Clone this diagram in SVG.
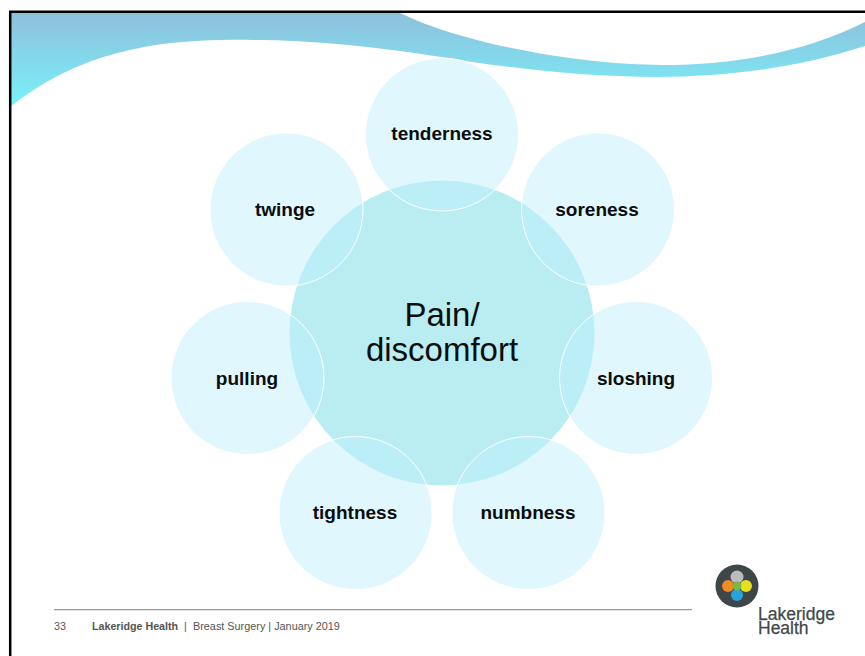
<svg xmlns="http://www.w3.org/2000/svg" width="865" height="656" viewBox="0 0 865 656">
<style>
text{font-family:"Liberation Sans",Arial,sans-serif}
.o{fill:#bff0fb;fill-opacity:.5;stroke:#fff;stroke-width:1}
.l{font-size:19px;font-weight:bold;fill:#0c0c0c;text-anchor:middle}
.f{font-size:10.700px;fill:#555}
.h{font-size:17.500px;fill:#41484b;stroke:#41484b;stroke-width:.25}
</style>
<defs><linearGradient id="w" x1="0" y1="12" x2="0" y2="107" gradientUnits="userSpaceOnUse"><stop offset="0" stop-color="#8fbfdb"/><stop offset="1" stop-color="#78f2fa"/></linearGradient></defs>
<rect width="865" height="656" fill="#fff"/>
<g id="wave"><path d="M10 13H400C470 47 590 65 662 65C740 65 810 50 865 22V46C800 67 730 77 656 77C580 77 500 67 441 57C380 47 310 40 254 40C160 38 82 50 10 107Z" fill="url(#w)"/></g>
<path id="frame" d="M10.200 656V11.700H865" fill="none" stroke="#000" stroke-width="2.500"/>
<g id="center"><circle cx="442" cy="333" r="152.500" fill="#b9edf2"/><text x="442" y="326" text-anchor="middle" font-size="33" fill="#0c0c0c">Pain/</text><text x="442" y="361" text-anchor="middle" font-size="33" fill="#0c0c0c">discomfort</text></g>
<g id="tenderness"><circle class="o" cx="442" cy="134.500" r="76.500"/><text class="l" x="442" y="140">tenderness</text></g>
<g id="soreness"><circle class="o" cx="598" cy="209.500" r="76.500"/><text class="l" x="597" y="215.500">soreness</text></g>
<g id="sloshing"><circle class="o" cx="636" cy="378" r="76.500"/><text class="l" x="636" y="384.500">sloshing</text></g>
<g id="numbness"><circle class="o" cx="528.500" cy="513" r="76.500"/><text class="l" x="528" y="519">numbness</text></g>
<g id="tightness"><circle class="o" cx="355.500" cy="513" r="76.500"/><text class="l" x="355" y="519">tightness</text></g>
<g id="pulling"><circle class="o" cx="247.500" cy="378" r="76.500"/><text class="l" x="247" y="384.500">pulling</text></g>
<g id="twinge"><circle class="o" cx="286.500" cy="209.500" r="76.500"/><text class="l" x="285" y="215.500">twinge</text></g>
<g id="footer"><path d="M54 609.700H692" stroke="#808080" stroke-width="1"/><text class="f" x="54" y="630">33</text><text class="f" x="92" y="630" font-weight="bold" fill="#444">Lakeridge Health</text><text class="f" x="184" y="630">|</text><text class="f" x="193" y="630" font-size="10.850" style="font-size:10.850px">Breast Surgery | January 2019</text></g>
<g id="logo"><circle cx="737" cy="586" r="21.500" fill="#3f4648"/><circle cx="737" cy="577" r="6.500" fill="#bcbcbc"/><circle cx="728" cy="586" r="6" fill="#f08a24"/><circle cx="746" cy="586" r="6" fill="#e8e01e"/><circle cx="737" cy="595" r="6" fill="#27a3dc"/><circle cx="737" cy="586" r="4.500" fill="#7ab648"/><text class="h"><tspan x="758" y="620">Lakeridge</tspan><tspan x="758" y="634">Health</tspan></text></g>
</svg>
